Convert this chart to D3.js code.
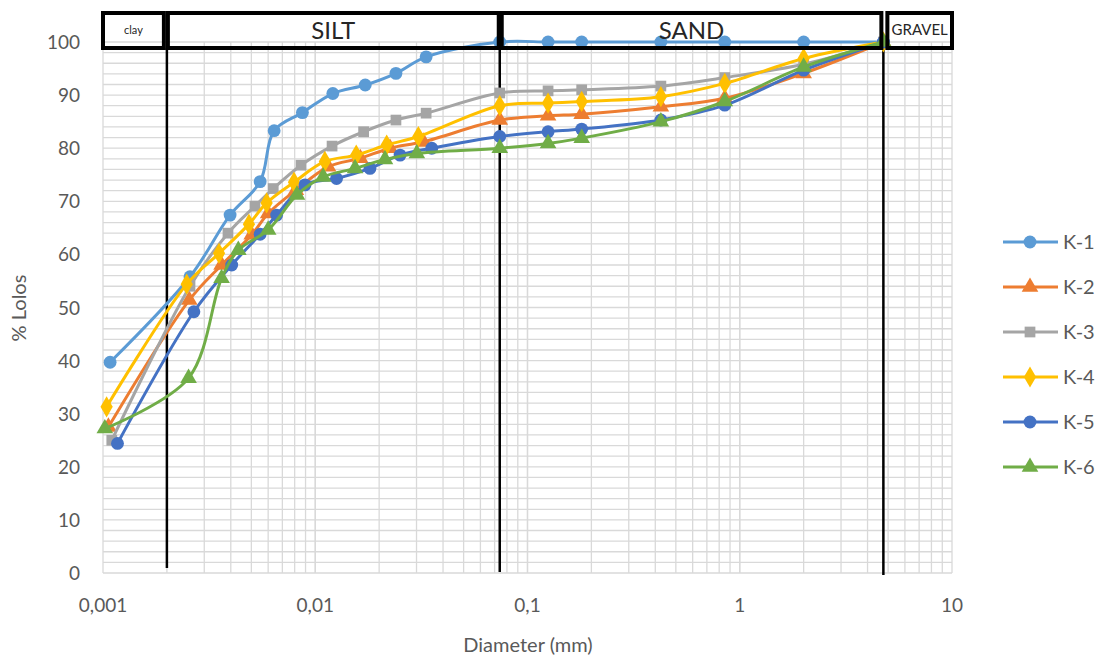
<!DOCTYPE html>
<html>
<head>
<meta charset="utf-8">
<script src="https://cdn.jsdelivr.net/npm/d3@7"></script>
<style>
  body { margin: 0; background: #fff; }
  svg { display: block; font-family: Lato, "Open Sans", sans-serif; }
</style>
</head>
<body>
<div id="chart"></div>
<script>
{
  // sieve diameters (mm), shared by all samples
  const SIEVE = [0.074, 0.125, 0.18, 0.425, 0.85, 2, 4.75];

  // hydrometer part, per sample
  const K1_HYD_D = [0.00108, 0.00257, 0.00397, 0.0055, 0.0064, 0.0087, 0.0121, 0.0172, 0.024, 0.0333];
  const K1_HYD_P = [39.7, 55.8, 67.4, 73.7, 83.3, 86.7, 90.3, 91.9, 94.1, 97.2];
  const K1_SIEVE_P = [100, 100, 100, 100, 100, 100, 100];

  const K2_HYD_D = [0.00106, 0.00255, 0.00362, 0.00502, 0.006, 0.0081, 0.0115, 0.0163, 0.0225, 0.0323];
  const K2_HYD_P = [27.5, 51.4, 58.0, 63.7, 67.7, 72.1, 76.5, 78.1, 80.0, 81.2];
  const K2_SIEVE_P = [85.3, 86.1, 86.4, 87.8, 89.4, 94.1, 100];

  const K3_HYD_D = [0.0011, 0.00257, 0.00388, 0.0052, 0.00634, 0.00857, 0.012, 0.0169, 0.024, 0.0333];
  const K3_HYD_P = [25.0, 54.0, 64.0, 69.1, 72.4, 76.8, 80.4, 83.1, 85.3, 86.6];
  const K3_SIEVE_P = [90.4, 90.8, 91.0, 91.7, 93.3, 95.8, 100];

  const K4_HYD_D = [0.00104, 0.00248, 0.00352, 0.00487, 0.0059, 0.00794, 0.0111, 0.0156, 0.0217, 0.0306];
  const K4_HYD_P = [31.3, 54.4, 60.2, 65.7, 69.7, 73.6, 77.5, 78.7, 80.6, 82.2];
  const K4_SIEVE_P = [88.0, 88.5, 88.8, 89.7, 92.2, 96.9, 100];

  const K5_HYD_D = [0.00117, 0.00268, 0.00404, 0.0055, 0.00658, 0.00895, 0.0126, 0.0181, 0.0251, 0.0354];
  const K5_HYD_P = [24.4, 49.2, 58.0, 63.8, 67.4, 73.1, 74.3, 76.2, 78.7, 80.0];
  const K5_SIEVE_P = [82.2, 83.1, 83.6, 85.3, 88.1, 94.7, 100];

  const K6_HYD_D = [0.00102, 0.00253, 0.00362, 0.00434, 0.006, 0.0082, 0.0109, 0.0154, 0.0213, 0.0301];
  const K6_HYD_P = [27.2, 36.7, 55.5, 60.8, 64.6, 71.2, 74.6, 76.2, 77.9, 79.0];
  const K6_SIEVE_P = [80.0, 80.9, 81.9, 85.0, 88.8, 95.3, 100];

  const SERIES_NAMES = ["K-1", "K-2", "K-3", "K-4", "K-5", "K-6"];
  const SERIES_COLORS = ["#5b9bd5", "#ed7d31", "#a5a5a5", "#ffc000", "#4472c4", "#70ad47"];
  const SERIES_MARKERS = ["circle", "triangle", "square", "diamond", "circle", "triangle"];

  const ZONE_NAMES = ["clay", "SILT", "SAND", "GRAVEL"];
  const ZONE_BOUNDS = [0.001, 0.002, 0.074, 4.75, 10];
  const ZONE_FONT = [11, 24, 24, 15];

  const X_TICKS = [0.001, 0.01, 0.1, 1, 10];
  const X_TICK_LABELS = ["0,001", "0,01", "0,1", "1", "10"];
  const Y_TICKS = d3.range(0, 101, 10);

  const width = 1098;
  const height = 660;
  const left = 103, right = 952, top = 42, bottom = 573;

  const svg = d3.select("#chart").append("svg")
    .attr("width", width)
    .attr("height", height);

  const x = d3.scaleLog().domain([0.001, 10]).range([left, right]);
  const y = d3.scaleLinear().domain([0, 100]).range([bottom, top]);

  // grid
  const minorX = [];
  [0.001, 0.01, 0.1, 1].forEach(dec => { for (let k = 1; k <= 10; k++) minorX.push(dec * k); });
  const gGrid = svg.append("g").attr("stroke", "#d9d9d9").attr("stroke-width", 1.3);
  gGrid.selectAll("line.vx").data(minorX).enter().append("line")
    .attr("x1", d => x(d)).attr("x2", d => x(d))
    .attr("y1", top).attr("y2", bottom);
  gGrid.selectAll("line.hy").data(d3.range(0, 101, 2)).enter().append("line")
    .attr("x1", left).attr("x2", right)
    .attr("y1", d => y(d)).attr("y2", d => y(d));

  // axis labels
  svg.append("g").selectAll("text").data(Y_TICKS).enter().append("text")
    .attr("x", 80).attr("y", d => y(d) + 7)
    .attr("text-anchor", "end")
    .attr("fill", "#595959").attr("font-size", 19)
    .text(d => d);
  svg.append("g").selectAll("text").data(X_TICKS).enter().append("text")
    .attr("x", d => x(d)).attr("y", 612)
    .attr("text-anchor", "middle")
    .attr("fill", "#595959").attr("font-size", 19)
    .text((d, i) => X_TICK_LABELS[i]);
  svg.append("text")
    .attr("x", 528).attr("y", 652)
    .attr("text-anchor", "middle")
    .attr("fill", "#595959").attr("font-size", 20)
    .text("Diameter (mm)");
  svg.append("text")
    .attr("transform", "translate(26,308) rotate(-90)")
    .attr("text-anchor", "middle")
    .attr("fill", "#595959").attr("font-size", 20)
    .text("% Lolos");

  // zone boundary lines
  const lineEnds = [568, 572, 575];
  svg.append("g").selectAll("line").data(ZONE_BOUNDS.slice(1, 4)).enter().append("line")
    .attr("x1", d => x(d)).attr("x2", d => x(d))
    .attr("y1", 48).attr("y2", (d, i) => lineEnds[i])
    .attr("stroke", "#000").attr("stroke-width", 2.5);

  // series
  const seriesData = [
    [K1_HYD_D, K1_HYD_P, K1_SIEVE_P],
    [K2_HYD_D, K2_HYD_P, K2_SIEVE_P],
    [K3_HYD_D, K3_HYD_P, K3_SIEVE_P],
    [K4_HYD_D, K4_HYD_P, K4_SIEVE_P],
    [K5_HYD_D, K5_HYD_P, K5_SIEVE_P],
    [K6_HYD_D, K6_HYD_P, K6_SIEVE_P]
  ].map(([hd, hp, sp], i) => ({
    name: SERIES_NAMES[i],
    color: SERIES_COLORS[i],
    marker: SERIES_MARKERS[i],
    points: hd.map((d, j) => [d, hp[j]]).concat(SIEVE.map((d, j) => [d, sp[j]]))
  }));

  const line = d3.line()
    .x(d => x(d[0])).y(d => y(d[1]))
    .curve(d3.curveCatmullRom.alpha(0.5));

  const symbolFor = {
    circle: d3.symbol().type(d3.symbolCircle).size(130),
    triangle: d3.symbol().type(d3.symbolTriangle).size(120),
    square: d3.symbol().type(d3.symbolSquare).size(115),
    diamond: d3.symbol().type(d3.symbolDiamond).size(130)
  };

  const gSeries = svg.append("g");
  seriesData.forEach(s => {
    const g = gSeries.append("g");
    g.append("path")
      .attr("d", line(s.points))
      .attr("fill", "none")
      .attr("stroke", s.color)
      .attr("stroke-width", 3)
      .attr("stroke-linejoin", "round");
    g.selectAll("path.mk").data(s.points).enter().append("path")
      .attr("class", "mk")
      .attr("transform", d => `translate(${x(d[0])},${y(d[1])})`)
      .attr("d", symbolFor[s.marker]())
      .attr("fill", s.color);
  });

  // zone header boxes (transparent, drawn on top)
  const boxPad = [[0, 3], [1, 1], [2, 2], [4, 0]];
  const gZones = svg.append("g");
  ZONE_NAMES.forEach((name, i) => {
    const x0 = x(ZONE_BOUNDS[i]) + boxPad[i][0];
    const x1 = x(ZONE_BOUNDS[i + 1]) - boxPad[i][1];
    gZones.append("rect")
      .attr("x", x0).attr("y", 13)
      .attr("width", x1 - x0).attr("height", 35)
      .attr("fill", "none")
      .attr("stroke", "#000").attr("stroke-width", 4);
    gZones.append("text")
      .attr("x", (x0 + x1) / 2)
      .attr("y", 30 + ZONE_FONT[i] * 0.36)
      .attr("text-anchor", "middle")
      .attr("font-size", ZONE_FONT[i])
      .attr("fill", "#262626")
      .text(name);
  });

  // legend
  const gLegend = svg.append("g");
  seriesData.forEach((s, i) => {
    const ly = 242 + i * 45;
    gLegend.append("line")
      .attr("x1", 1003).attr("x2", 1058)
      .attr("y1", ly).attr("y2", ly)
      .attr("stroke", s.color).attr("stroke-width", 3);
    gLegend.append("path")
      .attr("transform", `translate(1030,${ly})`)
      .attr("d", symbolFor[s.marker]())
      .attr("fill", s.color);
    gLegend.append("text")
      .attr("x", 1063).attr("y", ly + 7)
      .attr("fill", "#595959").attr("font-size", 20)
      .text(s.name);
  });
}
</script>
</body>
</html>
